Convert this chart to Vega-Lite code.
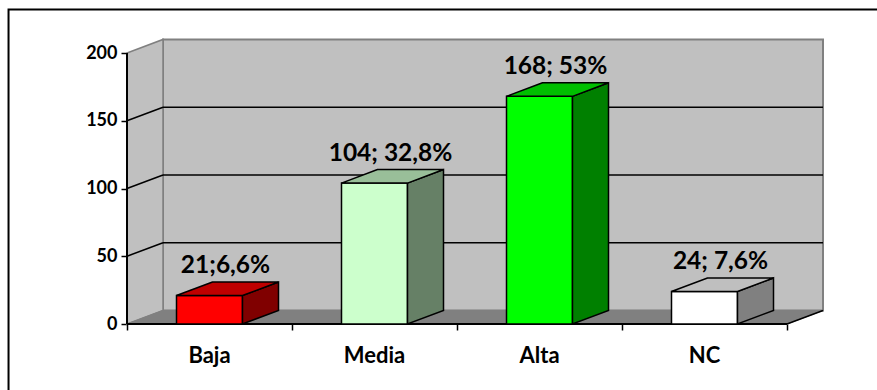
{
  "$schema": "https://vega.github.io/schema/vega-lite/v6.json",
  "width": 660,
  "height": 271,
  "autosize": "none",
  "padding": {"left": 127, "top": 53, "right": 90, "bottom": 66},
  "background": "white",
  "config": {"view": {"stroke": null}, "font": "Lato"},
  "datasets": {
    "bars": [
      {"cat": "Baja", "value": 21, "label": "21;6,6%"},
      {"cat": "Media", "value": 104, "label": "104; 32,8%"},
      {"cat": "Alta", "value": 168, "label": "168; 53%"},
      {"cat": "NC", "value": 24, "label": "24; 7,6%"}
    ],
    "grid": [{"v": 50}, {"v": 100}, {"v": 150}],
    "corners": [{"c": 0}, {"c": 1}]
  },
  "layer": [
    {
      "data": {"name": "bars"},
      "transform": [{"window": [{"op": "row_number", "as": "idx"}]}],
      "mark": {"type": "point", "opacity": 0},
      "encoding": {
        "x": {"field": "idx", "type": "quantitative", "scale": {"domain": [0.5, 4.5], "nice": false, "zero": false},
              "axis": {"values": [0.5, 1.5, 2.5, 3.5, 4.5], "labels": false, "title": null, "grid": false, "domain": false, "tickColor": "#000000", "tickWidth": 1.5, "tickSize": 6}},
        "y": {"field": "value", "type": "quantitative", "scale": {"domain": [0, 200], "nice": false},
              "axis": {"values": [0, 50, 100, 150, 200], "title": null, "grid": false, "domain": false, "tickColor": "#000000", "tickWidth": 1.5, "tickSize": 6, "labelFont": "Lato", "labelFontWeight": "bold", "labelFontSize": 18, "labelColor": "#000000", "labelPadding": 4}}
      }
    },
    {
      "data": {"name": "corners"},
      "transform": [{"filter": "datum.c == 0"}],
      "mark": {"type": "rect", "filled": false, "stroke": "#000000", "strokeWidth": 2},
      "encoding": {
        "x": {"datum": -0.218, "type": "quantitative", "axis": {"title": null}},
        "x2": {"datum": 6},
        "y": {"datum": 232.1, "type": "quantitative", "axis": {"title": null}},
        "y2": {"datum": -80}
      }
    },
    {
      "data": {"name": "corners"},
      "transform": [{"filter": "datum.c == 0"}],
      "mark": {"type": "rect", "fill": "#c0c0c0", "stroke": "#808080", "strokeWidth": 2},
      "encoding": {
        "x": {"datum": 0.7182, "type": "quantitative", "axis": {"title": null}},
        "x2": {"datum": 4.7182},
        "y": {"datum": 10, "type": "quantitative", "axis": {"title": null}},
        "y2": {"datum": 210}
      }
    },
    {
      "data": {"name": "corners"},
      "transform": [
        {"calculate": "0.5 + datum.c * 0.2182", "as": "xs"},
        {"calculate": "200 + datum.c * 10", "as": "yt"},
        {"calculate": "datum.c * 10", "as": "yb"}
      ],
      "mark": {"type": "area", "orient": "vertical", "fill": "#c0c0c0", "stroke": "#808080", "strokeWidth": 1.5},
      "encoding": {
        "x": {"field": "xs", "type": "quantitative", "axis": {"title": null}},
        "y": {"field": "yt", "type": "quantitative", "stack": null, "axis": {"title": null}},
        "y2": {"field": "yb"}
      }
    },
    {
      "data": {"name": "corners"},
      "transform": [
        {"calculate": "0.5 + datum.c * 0.2182", "as": "xa"},
        {"calculate": "4.5 + datum.c * 0.2182", "as": "xb"},
        {"calculate": "datum.c * 10", "as": "yy"}
      ],
      "mark": {"type": "area", "orient": "horizontal", "fill": "#808080", "stroke": "#808080", "strokeWidth": 1},
      "encoding": {
        "y": {"field": "yy", "type": "quantitative", "axis": {"title": null}},
        "x": {"field": "xa", "type": "quantitative", "stack": null, "axis": {"title": null}},
        "x2": {"field": "xb"}
      }
    },
    {
      "data": {"name": "corners"},
      "transform": [{"filter": "datum.c == 0"}],
      "mark": {"type": "rule", "color": "#000000", "strokeWidth": 1.5},
      "encoding": {
        "x": {"datum": 4.5, "type": "quantitative", "axis": {"title": null}},
        "x2": {"datum": 4.7182},
        "y": {"datum": 0, "type": "quantitative", "axis": {"title": null}},
        "y2": {"datum": 10}
      }
    },
    {
      "data": {"name": "grid"},
      "transform": [{"calculate": "datum.v + 10", "as": "vb"}],
      "mark": {"type": "rule", "color": "#000000", "strokeWidth": 1.5},
      "encoding": {
        "x": {"datum": 0.5, "type": "quantitative", "axis": {"title": null}},
        "x2": {"datum": 0.7182},
        "y": {"field": "v", "type": "quantitative", "axis": {"title": null}},
        "y2": {"field": "vb"}
      }
    },
    {
      "data": {"name": "grid"},
      "transform": [{"calculate": "datum.v + 10", "as": "vb"}],
      "mark": {"type": "rule", "color": "#000000", "strokeWidth": 1.5},
      "encoding": {
        "x": {"datum": 0.7182, "type": "quantitative", "axis": {"title": null}},
        "x2": {"datum": 4.7182},
        "y": {"field": "vb", "type": "quantitative", "axis": {"title": null}}
      }
    },
    {
      "data": {"name": "corners"},
      "transform": [{"filter": "datum.c == 0"}],
      "mark": {"type": "rule", "color": "#000000", "strokeWidth": 2},
      "encoding": {
        "x": {"datum": 0.5, "type": "quantitative", "axis": {"title": null}},
        "x2": {"datum": 4.5},
        "y": {"datum": 0, "type": "quantitative", "axis": {"title": null}}
      }
    },
    {
      "data": {"name": "corners"},
      "transform": [{"filter": "datum.c == 0"}],
      "mark": {"type": "rule", "color": "#000000", "strokeWidth": 2},
      "encoding": {
        "x": {"datum": 0.5, "type": "quantitative", "axis": {"title": null}},
        "y": {"datum": 0, "type": "quantitative", "axis": {"title": null}},
        "y2": {"datum": 200}
      }
    },
    {
      "data": {"name": "bars"},
      "transform": [
        {"window": [{"op": "row_number", "as": "idx"}]},
        {"calculate": "datum.idx - 0.2", "as": "x0"},
        {"calculate": "datum.idx + 0.2", "as": "x1"}
      ],
      "mark": {"type": "rect", "stroke": "#000000", "strokeWidth": 1.5},
      "encoding": {
        "x": {"field": "x0", "type": "quantitative", "axis": {"title": null}},
        "x2": {"field": "x1"},
        "y": {"field": "value", "type": "quantitative", "axis": {"title": null}},
        "y2": {"datum": 0},
        "fill": {"field": "cat", "type": "nominal", "legend": null,
                 "scale": {"domain": ["Baja", "Media", "Alta", "NC"], "range": ["#ff0000", "#ccffcc", "#00ff00", "#ffffff"]}}
      }
    },
    {
      "data": {"name": "bars"},
      "transform": [
        {"window": [{"op": "row_number", "as": "idx"}]},
        {"calculate": "[0, 1]", "as": "c"},
        {"flatten": ["c"]},
        {"calculate": "datum.idx + 0.2 + datum.c * 0.2182", "as": "xs"},
        {"calculate": "datum.value + datum.c * 10", "as": "yt"},
        {"calculate": "datum.c * 10", "as": "yb"}
      ],
      "mark": {"type": "area", "orient": "vertical", "stroke": "#000000", "strokeWidth": 1.5},
      "encoding": {
        "x": {"field": "xs", "type": "quantitative", "axis": {"title": null}},
        "y": {"field": "yt", "type": "quantitative", "stack": null, "axis": {"title": null}},
        "y2": {"field": "yb"},
        "detail": {"field": "cat"},
        "fill": {"field": "cat", "type": "nominal", "legend": null,
                 "scale": {"domain": ["Baja", "Media", "Alta", "NC"], "range": ["#800000", "#668066", "#008000", "#808080"]}}
      }
    },
    {
      "data": {"name": "bars"},
      "transform": [
        {"window": [{"op": "row_number", "as": "idx"}]},
        {"calculate": "[0, 1]", "as": "c"},
        {"flatten": ["c"]},
        {"calculate": "datum.idx - 0.2 + datum.c * 0.2182", "as": "xa"},
        {"calculate": "datum.idx + 0.2 + datum.c * 0.2182", "as": "xb"},
        {"calculate": "datum.value + datum.c * 10", "as": "yy"}
      ],
      "mark": {"type": "area", "orient": "horizontal", "stroke": "#000000", "strokeWidth": 1.5},
      "encoding": {
        "y": {"field": "yy", "type": "quantitative", "axis": {"title": null}},
        "x": {"field": "xa", "type": "quantitative", "stack": null, "axis": {"title": null}},
        "x2": {"field": "xb"},
        "detail": {"field": "cat"},
        "fill": {"field": "cat", "type": "nominal", "legend": null,
                 "scale": {"domain": ["Baja", "Media", "Alta", "NC"], "range": ["#bf0000", "#99bf99", "#00bf00", "#bfbfbf"]}}
      }
    },
    {
      "data": {"name": "bars"},
      "transform": [
        {"window": [{"op": "row_number", "as": "idx"}]},
        {"calculate": "datum.value + 10", "as": "yl"}
      ],
      "mark": {"type": "text", "font": "Lato", "fontWeight": "bold", "fontSize": 24.5, "color": "#000000", "align": "center", "baseline": "alphabetic", "dx": 16, "dy": -9},
      "encoding": {
        "x": {"field": "idx", "type": "quantitative", "axis": {"title": null}},
        "y": {"field": "yl", "type": "quantitative", "axis": {"title": null}},
        "text": {"field": "label"}
      }
    },
    {
      "data": {"name": "bars"},
      "transform": [{"window": [{"op": "row_number", "as": "idx"}]}],
      "mark": {"type": "text", "font": "Lato", "fontWeight": "bold", "fontSize": 22, "color": "#000000", "align": "center", "baseline": "alphabetic", "dy": 39},
      "encoding": {
        "x": {"field": "idx", "type": "quantitative", "axis": {"title": null}},
        "y": {"datum": 0, "type": "quantitative", "axis": {"title": null}},
        "text": {"field": "cat"}
      }
    }
  ],
  "resolve": {"scale": {"fill": "independent"}}
}
